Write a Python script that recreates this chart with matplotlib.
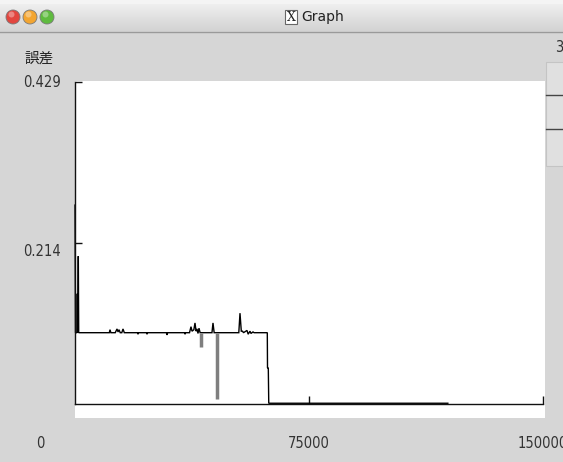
import matplotlib
matplotlib.use('Agg')
import matplotlib.pyplot as plt
import numpy as np
from matplotlib.patches import Rectangle, Circle
from matplotlib.colors import LinearSegmentedColormap
from matplotlib import font_manager as fm

# ---------------- data ----------------
step_x = [0, 160, 641, 737, 865, 1058, 1186, 11000, 11218, 11500, 12900, 13461,
          13800, 14100, 14500, 15000, 15384, 15800, 20000, 20192, 20400, 22900,
          23076, 23300, 29300, 29486, 29700, 35100, 35255, 35500, 36700, 37178,
          37500, 38100, 38460, 38800, 39101, 39422, 39742, 40100, 43900, 44229,
          44600, 52500, 52883, 53300, 53700, 54000, 55126, 55500, 56088, 56400,
          57049, 57400, 61634, 61700, 61955, 62100, 119500]
error = [0.265, 0.095, 0.095, 0.147, 0.095, 0.197, 0.095, 0.095, 0.099, 0.095,
         0.095, 0.100, 0.096, 0.099, 0.095, 0.095, 0.100, 0.095, 0.095, 0.093,
         0.095, 0.095, 0.093, 0.095, 0.095, 0.092, 0.095, 0.095, 0.093, 0.095,
         0.095, 0.103, 0.097, 0.099, 0.108, 0.097, 0.100, 0.094, 0.101, 0.095,
         0.095, 0.108, 0.095, 0.095, 0.121, 0.097, 0.097, 0.095, 0.098, 0.093,
         0.097, 0.094, 0.096, 0.095, 0.095, 0.048, 0.048, 0.001, 0.001]

# dense oscillation bursts (drawn grey)
burst_x = [40383, 45511]
burst_top = [0.095, 0.095]
burst_low = [0.076, 0.0067]

x_ticks = [75000, 150000]
x_tick_labels = ['0', '75000', '150000']
y_ticks = [0.214, 0.429]
y_tick_labels = ['0.429', '0.214']
x_max = 150000
y_max = 0.429
y_title = '誤差'
window_title = 'Graph'

# pick an upright, regular condensed face if one is installed
cands = []
for f in fm.fontManager.ttflist:
    n = f.name.lower()
    is_narrow = ('narrow' in n or 'condensed' in n)
    if (is_narrow or f.stretch in ('condensed', 'semi-condensed')) \
            and f.style == 'normal' and f.weight in (400, 'normal', 'regular', 'book'):
        cands.append(f)
cands.sort(key=lambda f: (0 if 'liberation' in f.name.lower() else
                          1 if 'dejavu' in f.name.lower() else 2, f.name))
if cands:
    lab_fp = fm.FontProperties(fname=cands[0].fname, size=10.5)
else:
    lab_fp = fm.FontProperties(family='DejaVu Sans', size=9.5)

# ---------------- figure ----------------
W, H = 563, 462
fig = plt.figure(figsize=(W / 100, H / 100), dpi=100)
fig.patch.set_facecolor('#d6d6d6')

deco = fig.add_axes([0, 0, 1, 1], zorder=0)
deco.set_facecolor('none')
deco.axis('off')

# title bar
deco.add_patch(Rectangle((0, 0), W, 4, fc='#f4f4f4', ec='none'))
cmap = LinearSegmentedColormap.from_list('tb', ['#efefef', '#d3d3d3'])
grad = np.linspace(0, 1, 64).reshape(-1, 1)
deco.imshow(grad, extent=(0, W, 31, 4), aspect='auto', cmap=cmap,
            interpolation='bilinear')
deco.plot([0, W], [31.5, 31.5], color='#9a9a9a', lw=1)
for cx, c in [(13, '#e2463f'), (30, '#f3a531'), (47, '#5fbb3f')]:
    deco.add_patch(Circle((cx, 17), 7, fc=c, ec='#7a7a7a', lw=0.6))
    deco.add_patch(Circle((cx - 1.5, 14.5), 3, fc='white', ec='none', alpha=0.35))
deco.add_patch(Rectangle((285, 10), 12, 14, fc='white', ec='#666666', lw=0.8))
deco.text(291, 17.5, 'X', ha='center', va='center', fontsize=9,
          family=['DejaVu Serif'], color='#222222')
deco.text(301, 17, window_title, ha='left', va='center', fontsize=10,
          family=['DejaVu Sans'], color='#222222')

# white plotting panel
deco.add_patch(Rectangle((75, 81), 470, 337, fc='white', ec='none'))

# right-side partial widgets
deco.add_patch(Rectangle((546, 62), 20, 104, fc='#e0e0e0', ec='#c4c4c4', lw=0.8))
deco.plot([546, W], [95, 95], color='#444444', lw=1)
deco.plot([546, W], [129, 129], color='#444444', lw=1)
deco.text(555, 47, '3', ha='left', va='center', fontproperties=lab_fp,
          color='#333333')

deco.text(39, 59, y_title, ha='center', va='center', fontsize=10.5,
          family=['Noto Sans CJK JP', 'DejaVu Sans'], color='#222222')
deco.text(42, 82.5, y_tick_labels[0], ha='center', va='center',
          fontproperties=lab_fp, color='#333333')
deco.text(42, 251, y_tick_labels[1], ha='center', va='center',
          fontproperties=lab_fp, color='#333333')
deco.text(40, 443, x_tick_labels[0], ha='center', va='center',
          fontproperties=lab_fp, color='#333333')

deco.set_xlim(0, W)
deco.set_ylim(H, 0)

# ---------------- main axes ----------------
ax = fig.add_axes([75 / W, (H - 404) / H, 468 / W, 322 / H], zorder=1)
ax.set_facecolor('none')
ax.set_xlim(0, x_max)
ax.set_ylim(0, y_max)
for s in ['top', 'right']:
    ax.spines[s].set_visible(False)
for s in ['left', 'bottom']:
    ax.spines[s].set_color('#111111')
    ax.spines[s].set_linewidth(1.0)

ax.plot(step_x, error, color='black', lw=1.0, solid_joinstyle='miter', clip_on=False)
ax.vlines(burst_x, burst_low, burst_top, color='#7f7f7f', lw=2.5)

ax.set_xticks(x_ticks)
ax.set_yticks(y_ticks)
ax.tick_params(axis='x', direction='in', length=6, width=1, color='#111111',
               labelbottom=False)
ax.tick_params(axis='y', direction='in', length=5, width=1, color='#111111',
               labelleft=False)

for xv, lab in zip(x_ticks, x_tick_labels[1:]):
    ax.text(xv, -39 / 322 * y_max, lab, ha='center', va='center',
            clip_on=False, fontproperties=lab_fp, color='#333333')

fig.savefig('out.png', dpi=100)
